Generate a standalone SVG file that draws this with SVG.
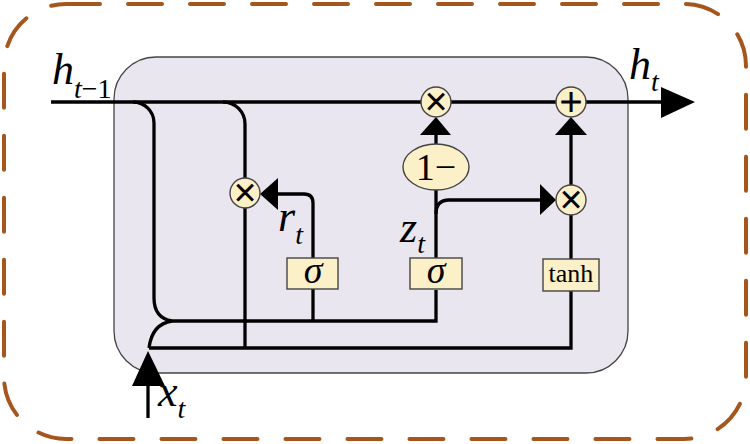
<svg xmlns="http://www.w3.org/2000/svg" width="750" height="444" viewBox="0 0 750 444">
<style>
.frame{fill:none;stroke:#a5561c;stroke-width:4;stroke-dasharray:34 28;stroke-linecap:round}
.cell{fill:#e9e6f0;stroke:#444;stroke-width:1.3}
.wire{fill:none;stroke:#000;stroke-width:3.3}
.head{fill:#000}
.node{fill:#fcf0c8;stroke:#444;stroke-width:1.4}
.lbl{font-family:"Liberation Serif",serif;font-style:italic;fill:#000}
.op{font-family:"Liberation Serif",serif;fill:#000;text-anchor:middle}
.sym{font-family:"Liberation Serif",serif;fill:#000;stroke:#000;stroke-width:0.9;text-anchor:middle}
</style>
<rect class="frame" x="4" y="4" width="742" height="435" rx="62"/>
<rect class="cell" x="114" y="57" width="514" height="316" rx="42"/>
<g id="connectors">
<path class="wire" d="M51,102 H664"/>
<polygon class="head" points="661,87 695,102 661,118"/>
<path class="wire" d="M133,102 A21,21 0 0 1 154,123 V298 Q154,318 172,321 H436 V290"/>
<path class="wire" d="M313,321 V288"/>
<path class="wire" d="M223,102 A22,22 0 0 1 245,124 V348"/>
<path class="wire" d="M149,348 H571 V291"/>
<path class="wire" d="M149,348 Q152,324 172,321"/>
<path class="wire" d="M148,418 V384"/>
<polygon class="head" points="132,386 148,351 165,386"/>
<path class="wire" d="M313,258 V203 Q313,194 304,194 H275"/>
<polygon class="head" points="278,178 260,194 278,210"/>
<path class="wire" d="M436,258 V189"/>
<path class="wire" d="M436,145 V133"/>
<polygon class="head" points="420,135 436,117 451,135"/>
<path class="wire" d="M436,214 Q436,200 449,200 H542"/>
<polygon class="head" points="540,184 556,200 540,215"/>
<path class="wire" d="M571,259 V214"/>
<path class="wire" d="M571,185 V133"/>
<polygon class="head" points="555,135 571,117 587,135"/>
</g>
<g id="mul_r"><circle class="node" cx="245" cy="193" r="15"/><text class="sym" x="245" y="206" font-size="40">×</text></g>
<g id="mul_top"><circle class="node" cx="436" cy="102" r="15"/><text class="sym" x="436" y="115" font-size="40">×</text></g>
<g id="add_top"><circle class="node" cx="571" cy="102" r="15"/><text class="sym" x="571" y="115" font-size="40">+</text></g>
<g id="mul_right"><circle class="node" cx="571" cy="200" r="15"/><text class="sym" x="571" y="213" font-size="40">×</text></g>
<g id="one_minus"><ellipse class="node" cx="436" cy="167" rx="33" ry="23"/><text class="op" x="436" y="180" font-size="38">1−</text></g>
<g id="sigma_r"><rect class="node" x="287" y="258" width="51" height="31"/><text class="op" x="313" y="283" font-size="38" font-style="italic">σ</text></g>
<g id="sigma_z"><rect class="node" x="410" y="258" width="52" height="31"/><text class="op" x="436" y="283" font-size="38" font-style="italic">σ</text></g>
<g id="tanh"><rect class="node" x="543" y="259" width="56" height="32"/><text class="op" x="571" y="282" font-size="26">tanh</text></g>
<g id="labels">
<text class="lbl" x="52" y="84" font-size="44">h<tspan font-size="28" dy="14">t</tspan><tspan font-size="28" font-style="normal">−1</tspan></text>
<text class="lbl" x="629" y="79" font-size="44">h<tspan font-size="28" dy="12">t</tspan></text>
<text class="lbl" x="278" y="231" font-size="44">r<tspan font-size="28" dy="13">t</tspan></text>
<text class="lbl" x="400" y="242" font-size="44">z<tspan font-size="28" dy="11">t</tspan></text>
<text class="lbl" x="158" y="406" font-size="44">x<tspan font-size="28" dy="12">t</tspan></text>
</g>
</svg>
